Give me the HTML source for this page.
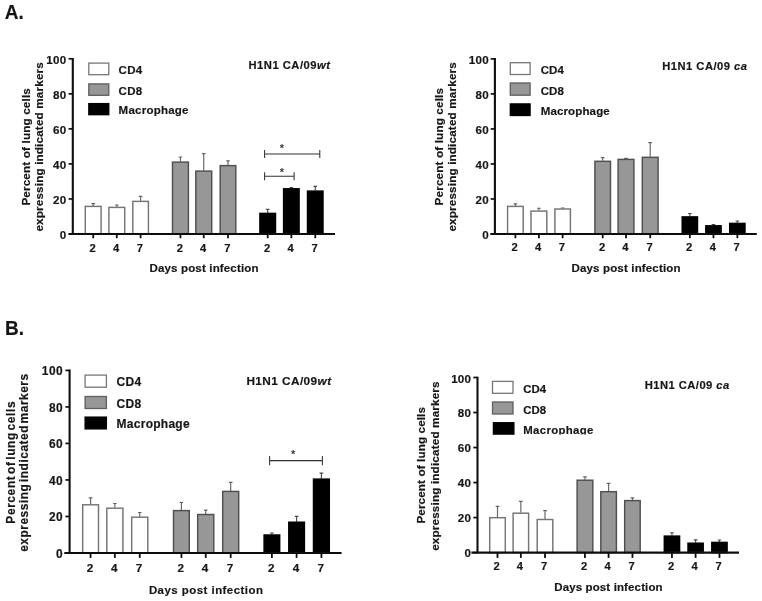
<!DOCTYPE html>
<html lang="en">
<head>
<meta charset="utf-8">
<title>Figure</title>
<style>
html,body{margin:0;padding:0;background:#fff;}
body{width:762px;height:601px;overflow:hidden;}
svg{display:block;}
svg text{font-family:"Liberation Sans", Arial, sans-serif;font-weight:bold;fill:#161616;stroke:#161616;stroke-width:0.18px;}
</style>
</head>
<body>
<svg width="762" height="601" viewBox="0 0 762 601">
<rect width="762" height="601" fill="#fff"/>
<defs><filter id="soft" x="0" y="0" width="762" height="601" filterUnits="userSpaceOnUse"><feGaussianBlur stdDeviation="0.42"/></filter><clipPath id="cm"><rect x="515" y="415" width="100" height="19.4"/></clipPath></defs>
<g filter="url(#soft)">
<text x="4.7" y="18.5" font-size="20.6" textLength="19.0" lengthAdjust="spacingAndGlyphs">A.</text>
<text x="5.0" y="335.0" font-size="20.2" textLength="19.0" lengthAdjust="spacingAndGlyphs">B.</text>
<g><path d="M93.2 205.9V203.6M91.4 203.6H95" stroke="#646464" stroke-width="1.15" fill="none"/>
<rect x="85.3" y="206.4" width="15.8" height="27.6" fill="#fff" stroke="#747474" stroke-width="1.45"/>
<path d="M116.8 206.9V205M115 205H118.6" stroke="#646464" stroke-width="1.15" fill="none"/>
<rect x="108.9" y="207.4" width="15.8" height="26.6" fill="#fff" stroke="#747474" stroke-width="1.45"/>
<path d="M140.6 200.9V196.3M138.8 196.3H142.4" stroke="#646464" stroke-width="1.15" fill="none"/>
<rect x="132.8" y="201.4" width="15.6" height="32.6" fill="#fff" stroke="#747474" stroke-width="1.45"/>
<path d="M180.45 161.6V157M178.65 157H182.25" stroke="#646464" stroke-width="1.15" fill="none"/>
<rect x="172.5" y="162.1" width="15.9" height="71.9" fill="#979797" stroke="#505050" stroke-width="1.45"/>
<path d="M203.75 170.6V153.6M201.95 153.6H205.55" stroke="#646464" stroke-width="1.15" fill="none"/>
<rect x="195.8" y="171.1" width="15.9" height="62.9" fill="#979797" stroke="#505050" stroke-width="1.45"/>
<path d="M228 165.1V160.8M226.2 160.8H229.8" stroke="#646464" stroke-width="1.15" fill="none"/>
<rect x="220.2" y="165.6" width="15.6" height="68.4" fill="#979797" stroke="#505050" stroke-width="1.45"/>
<path d="M267.7 212.9V209.3M265.9 209.3H269.5" stroke="#4a4a4a" stroke-width="1.15" fill="none"/>
<rect x="259.9" y="213.4" width="15.6" height="20.6" fill="#000" stroke="#000" stroke-width="1.45"/>
<path d="M291.35 188.3V187.5M289.55 187.5H293.15" stroke="#4a4a4a" stroke-width="1.15" fill="none"/>
<rect x="283.6" y="188.8" width="15.5" height="45.2" fill="#000" stroke="#000" stroke-width="1.45"/>
<path d="M315.25 190.6V186.4M313.45 186.4H317.05" stroke="#4a4a4a" stroke-width="1.15" fill="none"/>
<rect x="307.5" y="191.1" width="15.5" height="42.9" fill="#000" stroke="#000" stroke-width="1.45"/>
<path d="M72.8 58V234.9M68.6 234H335" stroke="#111" stroke-width="2.1" fill="none"/>
<path d="M68.6 234H72.8" stroke="#111" stroke-width="1.7"/>
<text x="66.35" y="239.08" text-anchor="end" font-size="11.6" letter-spacing="0.25">0</text>
<path d="M68.6 198.96H72.8" stroke="#111" stroke-width="1.7"/>
<text x="66.35" y="204.04" text-anchor="end" font-size="11.6" letter-spacing="0.25">20</text>
<path d="M68.6 163.92H72.8" stroke="#111" stroke-width="1.7"/>
<text x="66.35" y="169" text-anchor="end" font-size="11.6" letter-spacing="0.25">40</text>
<path d="M68.6 128.88H72.8" stroke="#111" stroke-width="1.7"/>
<text x="66.35" y="133.96" text-anchor="end" font-size="11.6" letter-spacing="0.25">60</text>
<path d="M68.6 93.84H72.8" stroke="#111" stroke-width="1.7"/>
<text x="66.35" y="98.92" text-anchor="end" font-size="11.6" letter-spacing="0.25">80</text>
<path d="M68.6 58.8H72.8" stroke="#111" stroke-width="1.7"/>
<text x="66.35" y="63.88" text-anchor="end" font-size="11.6" letter-spacing="0.25">100</text>
<path d="M93.2 234V238.2" stroke="#111" stroke-width="1.8"/>
<text x="92.5" y="251.5" text-anchor="middle" font-size="11.2">2</text>
<path d="M116.8 234V238.2" stroke="#111" stroke-width="1.8"/>
<text x="116.1" y="251.5" text-anchor="middle" font-size="11.2">4</text>
<path d="M140.6 234V238.2" stroke="#111" stroke-width="1.8"/>
<text x="139.9" y="251.5" text-anchor="middle" font-size="11.2">7</text>
<path d="M180.45 234V238.2" stroke="#111" stroke-width="1.8"/>
<text x="179.75" y="251.5" text-anchor="middle" font-size="11.2">2</text>
<path d="M203.75 234V238.2" stroke="#111" stroke-width="1.8"/>
<text x="203.05" y="251.5" text-anchor="middle" font-size="11.2">4</text>
<path d="M228 234V238.2" stroke="#111" stroke-width="1.8"/>
<text x="227.3" y="251.5" text-anchor="middle" font-size="11.2">7</text>
<path d="M267.7 234V238.2" stroke="#111" stroke-width="1.8"/>
<text x="267" y="251.5" text-anchor="middle" font-size="11.2">2</text>
<path d="M291.35 234V238.2" stroke="#111" stroke-width="1.8"/>
<text x="290.65" y="251.5" text-anchor="middle" font-size="11.2">4</text>
<path d="M315.25 234V238.2" stroke="#111" stroke-width="1.8"/>
<text x="314.55" y="251.5" text-anchor="middle" font-size="11.2">7</text>
<text x="149.5" y="272.3" font-size="11.5" textLength="109" lengthAdjust="spacing">Days post infection</text>
<text transform="translate(30.2 205.6) rotate(-90)" font-size="11.7" textLength="117.4" lengthAdjust="spacing">Percent of lung cells</text>
<text transform="translate(43.2 231.6) rotate(-90)" font-size="11.7" textLength="169.4" lengthAdjust="spacing">expressing indicated markers</text>
<rect x="88.8" y="63.1" width="20" height="11.6" fill="#fff" stroke="#777" stroke-width="1.3"/>
<text x="118.6" y="74.2" font-size="11.5" textLength="23.5" lengthAdjust="spacing">CD4</text>
<rect x="88.8" y="83.9" width="20" height="11.4" fill="#979797" stroke="#5e5e5e" stroke-width="1.3"/>
<text x="118.6" y="94.8" font-size="11.5" textLength="23.5" lengthAdjust="spacing">CD8</text>
<rect x="88.8" y="103.6" width="20" height="11.1" fill="#000" stroke="#000" stroke-width="1.3"/>
<text x="118.6" y="114.2" font-size="11.5" textLength="69.9" lengthAdjust="spacing">Macrophage</text>
<text x="248.5" y="69.4" font-size="11.2" textLength="81.4" lengthAdjust="spacing">H1N1 CA/09<tspan font-style="italic">wt</tspan></text>
<path d="M264.6 154H319.8M264.6 150V158M319.8 150V158" stroke="#303030" stroke-width="1.05" fill="none"/>
<text x="281.8" y="151.5" text-anchor="middle" font-size="11" font-weight="normal" style="fill:#3a3a3a;stroke:none">*</text>
<path d="M264.6 176.2H294.1M264.6 172.2V180.2M294.1 172.2V180.2" stroke="#303030" stroke-width="1.05" fill="none"/>
<text x="281.8" y="175.6" text-anchor="middle" font-size="11" font-weight="normal" style="fill:#3a3a3a;stroke:none">*</text></g>
<g><path d="M515.4 205.9V203.8M513.6 203.8H517.2" stroke="#646464" stroke-width="1.15" fill="none"/>
<rect x="507.6" y="206.4" width="15.6" height="27.6" fill="#fff" stroke="#747474" stroke-width="1.45"/>
<path d="M538.9 210.6V208.2M537.1 208.2H540.7" stroke="#646464" stroke-width="1.15" fill="none"/>
<rect x="531" y="211.1" width="15.8" height="22.9" fill="#fff" stroke="#747474" stroke-width="1.45"/>
<path d="M562.65 208.5V208M560.85 208H564.45" stroke="#646464" stroke-width="1.15" fill="none"/>
<rect x="554.9" y="209" width="15.5" height="25" fill="#fff" stroke="#747474" stroke-width="1.45"/>
<path d="M602.7 160.8V157.6M600.9 157.6H604.5" stroke="#646464" stroke-width="1.15" fill="none"/>
<rect x="594.9" y="161.3" width="15.6" height="72.7" fill="#979797" stroke="#505050" stroke-width="1.45"/>
<path d="M626 158.9V158.3M624.2 158.3H627.8" stroke="#646464" stroke-width="1.15" fill="none"/>
<rect x="618.1" y="159.4" width="15.8" height="74.6" fill="#979797" stroke="#505050" stroke-width="1.45"/>
<path d="M650.2 156.8V142.6M648.4 142.6H652" stroke="#646464" stroke-width="1.15" fill="none"/>
<rect x="642.3" y="157.3" width="15.8" height="76.7" fill="#979797" stroke="#505050" stroke-width="1.45"/>
<path d="M689.85 216.4V213.5M688.05 213.5H691.65" stroke="#4a4a4a" stroke-width="1.15" fill="none"/>
<rect x="682.2" y="216.9" width="15.3" height="17.1" fill="#000" stroke="#000" stroke-width="1.45"/>
<path d="M713.45 225.3V224.5M711.65 224.5H715.25" stroke="#4a4a4a" stroke-width="1.15" fill="none"/>
<rect x="705.8" y="225.8" width="15.3" height="8.2" fill="#000" stroke="#000" stroke-width="1.45"/>
<path d="M737.35 222.9V221M735.55 221H739.15" stroke="#4a4a4a" stroke-width="1.15" fill="none"/>
<rect x="729.7" y="223.4" width="15.3" height="10.6" fill="#000" stroke="#000" stroke-width="1.45"/>
<path d="M494.9 58.1V234.9M490.4 234H756.8" stroke="#111" stroke-width="2.1" fill="none"/>
<path d="M490.7 234H494.9" stroke="#111" stroke-width="1.7"/>
<text x="488.95" y="239.18" text-anchor="end" font-size="11.6" letter-spacing="0.25">0</text>
<path d="M490.7 198.98H494.9" stroke="#111" stroke-width="1.7"/>
<text x="488.95" y="204.16" text-anchor="end" font-size="11.6" letter-spacing="0.25">20</text>
<path d="M490.7 163.96H494.9" stroke="#111" stroke-width="1.7"/>
<text x="488.95" y="169.14" text-anchor="end" font-size="11.6" letter-spacing="0.25">40</text>
<path d="M490.7 128.94H494.9" stroke="#111" stroke-width="1.7"/>
<text x="488.95" y="134.12" text-anchor="end" font-size="11.6" letter-spacing="0.25">60</text>
<path d="M490.7 93.92H494.9" stroke="#111" stroke-width="1.7"/>
<text x="488.95" y="99.1" text-anchor="end" font-size="11.6" letter-spacing="0.25">80</text>
<path d="M490.7 58.9H494.9" stroke="#111" stroke-width="1.7"/>
<text x="488.95" y="64.08" text-anchor="end" font-size="11.6" letter-spacing="0.25">100</text>
<path d="M515.4 234V238.2" stroke="#111" stroke-width="1.8"/>
<text x="514.7" y="251.4" text-anchor="middle" font-size="11.2">2</text>
<path d="M538.9 234V238.2" stroke="#111" stroke-width="1.8"/>
<text x="538.2" y="251.4" text-anchor="middle" font-size="11.2">4</text>
<path d="M562.65 234V238.2" stroke="#111" stroke-width="1.8"/>
<text x="561.95" y="251.4" text-anchor="middle" font-size="11.2">7</text>
<path d="M602.7 234V238.2" stroke="#111" stroke-width="1.8"/>
<text x="602" y="251.4" text-anchor="middle" font-size="11.2">2</text>
<path d="M626 234V238.2" stroke="#111" stroke-width="1.8"/>
<text x="625.3" y="251.4" text-anchor="middle" font-size="11.2">4</text>
<path d="M650.2 234V238.2" stroke="#111" stroke-width="1.8"/>
<text x="649.5" y="251.4" text-anchor="middle" font-size="11.2">7</text>
<path d="M689.85 234V238.2" stroke="#111" stroke-width="1.8"/>
<text x="689.15" y="251.4" text-anchor="middle" font-size="11.2">2</text>
<path d="M713.45 234V238.2" stroke="#111" stroke-width="1.8"/>
<text x="712.75" y="251.4" text-anchor="middle" font-size="11.2">4</text>
<path d="M737.35 234V238.2" stroke="#111" stroke-width="1.8"/>
<text x="736.65" y="251.4" text-anchor="middle" font-size="11.2">7</text>
<text x="571.5" y="272.2" font-size="11.5" textLength="109" lengthAdjust="spacing">Days post infection</text>
<text transform="translate(442.8 205.4) rotate(-90)" font-size="11.7" textLength="117.4" lengthAdjust="spacing">Percent of lung cells</text>
<text transform="translate(455.6 231.6) rotate(-90)" font-size="11.7" textLength="169.4" lengthAdjust="spacing">expressing indicated markers</text>
<rect x="510.3" y="62.7" width="19.8" height="11.8" fill="#fff" stroke="#777" stroke-width="1.3"/>
<text x="540.7" y="74.3" font-size="11.5" textLength="23.2" lengthAdjust="spacing">CD4</text>
<rect x="510.3" y="83" width="19.8" height="12.2" fill="#979797" stroke="#5e5e5e" stroke-width="1.3"/>
<text x="540.7" y="95" font-size="11.5" textLength="23.2" lengthAdjust="spacing">CD8</text>
<rect x="510.3" y="103.9" width="19.8" height="11.6" fill="#000" stroke="#000" stroke-width="1.3"/>
<text x="540.7" y="115.3" font-size="11.5" textLength="69" lengthAdjust="spacing">Macrophage</text>
<text x="662.3" y="70.4" font-size="11.2" textLength="84.6" lengthAdjust="spacing">H1N1 CA/09 <tspan font-style="italic">ca</tspan></text></g>
<g><path d="M90.6 504.3V497.8M88.8 497.8H92.4" stroke="#646464" stroke-width="1.15" fill="none"/>
<rect x="82.7" y="504.8" width="15.8" height="48.2" fill="#fff" stroke="#747474" stroke-width="1.45"/>
<path d="M114.85 507.7V503.5M113.05 503.5H116.65" stroke="#646464" stroke-width="1.15" fill="none"/>
<rect x="106.8" y="508.2" width="16.1" height="44.8" fill="#fff" stroke="#747474" stroke-width="1.45"/>
<path d="M139.75 516.7V512.5M137.95 512.5H141.55" stroke="#646464" stroke-width="1.15" fill="none"/>
<rect x="131.7" y="517.2" width="16.1" height="35.8" fill="#fff" stroke="#747474" stroke-width="1.45"/>
<path d="M181.4 510.1V502.5M179.6 502.5H183.2" stroke="#646464" stroke-width="1.15" fill="none"/>
<rect x="173.5" y="510.6" width="15.8" height="42.4" fill="#979797" stroke="#505050" stroke-width="1.45"/>
<path d="M205.75 514V510.1M203.95 510.1H207.55" stroke="#646464" stroke-width="1.15" fill="none"/>
<rect x="197.7" y="514.5" width="16.1" height="38.5" fill="#979797" stroke="#505050" stroke-width="1.45"/>
<path d="M230.7 490.9V482.3M228.9 482.3H232.5" stroke="#646464" stroke-width="1.15" fill="none"/>
<rect x="222.7" y="491.4" width="16" height="61.6" fill="#979797" stroke="#505050" stroke-width="1.45"/>
<path d="M271.9 534.5V533M270.1 533H273.7" stroke="#4a4a4a" stroke-width="1.15" fill="none"/>
<rect x="264.1" y="535" width="15.6" height="18" fill="#000" stroke="#000" stroke-width="1.45"/>
<path d="M296.6 521.7V516.4M294.8 516.4H298.4" stroke="#4a4a4a" stroke-width="1.15" fill="none"/>
<rect x="288.8" y="522.2" width="15.6" height="30.8" fill="#000" stroke="#000" stroke-width="1.45"/>
<path d="M321.4 478.6V473.1M319.6 473.1H323.2" stroke="#4a4a4a" stroke-width="1.15" fill="none"/>
<rect x="313.5" y="479.1" width="15.8" height="73.9" fill="#000" stroke="#000" stroke-width="1.45"/>
<path d="M69.6 369.6V553.9M64.3 553H341.6" stroke="#111" stroke-width="2.1" fill="none"/>
<path d="M65.4 553H69.6" stroke="#111" stroke-width="1.7"/>
<text x="63.15" y="557.98" text-anchor="end" font-size="11.9" letter-spacing="0.5">0</text>
<path d="M65.4 516.48H69.6" stroke="#111" stroke-width="1.7"/>
<text x="63.15" y="521.46" text-anchor="end" font-size="11.9" letter-spacing="0.5">20</text>
<path d="M65.4 479.96H69.6" stroke="#111" stroke-width="1.7"/>
<text x="63.15" y="484.94" text-anchor="end" font-size="11.9" letter-spacing="0.5">40</text>
<path d="M65.4 443.44H69.6" stroke="#111" stroke-width="1.7"/>
<text x="63.15" y="448.42" text-anchor="end" font-size="11.9" letter-spacing="0.5">60</text>
<path d="M65.4 406.92H69.6" stroke="#111" stroke-width="1.7"/>
<text x="63.15" y="411.9" text-anchor="end" font-size="11.9" letter-spacing="0.5">80</text>
<path d="M65.4 370.4H69.6" stroke="#111" stroke-width="1.7"/>
<text x="63.15" y="375.38" text-anchor="end" font-size="11.9" letter-spacing="0.5">100</text>
<path d="M90.6 553V557.9" stroke="#111" stroke-width="1.8"/>
<text x="89.9" y="572" text-anchor="middle" font-size="11.7">2</text>
<path d="M114.85 553V557.9" stroke="#111" stroke-width="1.8"/>
<text x="114.15" y="572" text-anchor="middle" font-size="11.7">4</text>
<path d="M139.75 553V557.9" stroke="#111" stroke-width="1.8"/>
<text x="139.05" y="572" text-anchor="middle" font-size="11.7">7</text>
<path d="M181.4 553V557.9" stroke="#111" stroke-width="1.8"/>
<text x="180.7" y="572" text-anchor="middle" font-size="11.7">2</text>
<path d="M205.75 553V557.9" stroke="#111" stroke-width="1.8"/>
<text x="205.05" y="572" text-anchor="middle" font-size="11.7">4</text>
<path d="M230.7 553V557.9" stroke="#111" stroke-width="1.8"/>
<text x="230" y="572" text-anchor="middle" font-size="11.7">7</text>
<path d="M271.9 553V557.9" stroke="#111" stroke-width="1.8"/>
<text x="271.2" y="572" text-anchor="middle" font-size="11.7">2</text>
<path d="M296.6 553V557.9" stroke="#111" stroke-width="1.8"/>
<text x="295.9" y="572" text-anchor="middle" font-size="11.7">4</text>
<path d="M321.4 553V557.9" stroke="#111" stroke-width="1.8"/>
<text x="320.7" y="572" text-anchor="middle" font-size="11.7">7</text>
<text x="148.9" y="593.8" font-size="11.4" textLength="114" lengthAdjust="spacing">Days post infection</text>
<text transform="translate(15.3 523.7) rotate(-90)" font-size="12" word-spacing="-2.2" textLength="122.3" lengthAdjust="spacing">Percent of lung cells</text>
<text transform="translate(28.4 551.8) rotate(-90)" font-size="12" word-spacing="-2.2" textLength="178" lengthAdjust="spacing">expressing indicated markers</text>
<rect x="85.1" y="375.1" width="21.3" height="12.1" fill="#fff" stroke="#777" stroke-width="1.3"/>
<text x="116.6" y="386.3" font-size="12" textLength="24.6" lengthAdjust="spacing">CD4</text>
<rect x="85.1" y="396.5" width="21.3" height="12" fill="#979797" stroke="#5e5e5e" stroke-width="1.3"/>
<text x="116.6" y="407.6" font-size="12" textLength="24.6" lengthAdjust="spacing">CD8</text>
<rect x="85.1" y="417.1" width="21.3" height="11.8" fill="#000" stroke="#000" stroke-width="1.3"/>
<text x="116.6" y="428" font-size="12" textLength="73" lengthAdjust="spacing">Macrophage</text>
<text x="246.4" y="385" font-size="11.8" textLength="84.7" lengthAdjust="spacing">H1N1 CA/09<tspan font-style="italic">wt</tspan></text>
<path d="M269.6 460.6H322.4M269.6 456V465.2M322.4 456V465.2" stroke="#303030" stroke-width="1.05" fill="none"/>
<text x="293.2" y="458" text-anchor="middle" font-size="11" font-weight="normal" style="fill:#3a3a3a;stroke:none">*</text></g>
<g><path d="M497.5 517.2V506.4M495.7 506.4H499.3" stroke="#646464" stroke-width="1.15" fill="none"/>
<rect x="489.7" y="517.7" width="15.6" height="34.9" fill="#fff" stroke="#747474" stroke-width="1.45"/>
<path d="M520.85 512.7V501.4M519.05 501.4H522.65" stroke="#646464" stroke-width="1.15" fill="none"/>
<rect x="513.1" y="513.2" width="15.5" height="39.4" fill="#fff" stroke="#747474" stroke-width="1.45"/>
<path d="M545 519V510.6M543.2 510.6H546.8" stroke="#646464" stroke-width="1.15" fill="none"/>
<rect x="537.2" y="519.5" width="15.6" height="33.1" fill="#fff" stroke="#747474" stroke-width="1.45"/>
<path d="M584.95 479.7V476.8M583.15 476.8H586.75" stroke="#646464" stroke-width="1.15" fill="none"/>
<rect x="577.1" y="480.2" width="15.7" height="72.4" fill="#979797" stroke="#505050" stroke-width="1.45"/>
<path d="M608.6 491.2V483.3M606.8 483.3H610.4" stroke="#646464" stroke-width="1.15" fill="none"/>
<rect x="600.8" y="491.7" width="15.6" height="60.9" fill="#979797" stroke="#505050" stroke-width="1.45"/>
<path d="M632.45 500.1V497.8M630.65 497.8H634.25" stroke="#646464" stroke-width="1.15" fill="none"/>
<rect x="624.7" y="500.6" width="15.5" height="52" fill="#979797" stroke="#505050" stroke-width="1.45"/>
<path d="M671.95 535.6V532.7M670.15 532.7H673.75" stroke="#4a4a4a" stroke-width="1.15" fill="none"/>
<rect x="664.3" y="536.1" width="15.3" height="16.5" fill="#000" stroke="#000" stroke-width="1.45"/>
<path d="M695.6 542.7V539.8M693.8 539.8H697.4" stroke="#4a4a4a" stroke-width="1.15" fill="none"/>
<rect x="688" y="543.2" width="15.2" height="9.4" fill="#000" stroke="#000" stroke-width="1.45"/>
<path d="M719.45 541.9V540M717.65 540H721.25" stroke="#4a4a4a" stroke-width="1.15" fill="none"/>
<rect x="711.8" y="542.4" width="15.3" height="10.2" fill="#000" stroke="#000" stroke-width="1.45"/>
<path d="M477.5 376.7V553.5M471.4 552.6H739" stroke="#111" stroke-width="2.1" fill="none"/>
<path d="M473.3 552.6H477.5" stroke="#111" stroke-width="1.7"/>
<text x="471.25" y="556.98" text-anchor="end" font-size="11.6" letter-spacing="0.25">0</text>
<path d="M473.3 517.58H477.5" stroke="#111" stroke-width="1.7"/>
<text x="471.25" y="521.96" text-anchor="end" font-size="11.6" letter-spacing="0.25">20</text>
<path d="M473.3 482.56H477.5" stroke="#111" stroke-width="1.7"/>
<text x="471.25" y="486.94" text-anchor="end" font-size="11.6" letter-spacing="0.25">40</text>
<path d="M473.3 447.54H477.5" stroke="#111" stroke-width="1.7"/>
<text x="471.25" y="451.92" text-anchor="end" font-size="11.6" letter-spacing="0.25">60</text>
<path d="M473.3 412.52H477.5" stroke="#111" stroke-width="1.7"/>
<text x="471.25" y="416.9" text-anchor="end" font-size="11.6" letter-spacing="0.25">80</text>
<path d="M473.3 377.5H477.5" stroke="#111" stroke-width="1.7"/>
<text x="471.25" y="382.88" text-anchor="end" font-size="11.6" letter-spacing="0.25">100</text>
<path d="M497.5 552.6V557.9" stroke="#111" stroke-width="1.8"/>
<text x="496.6" y="570.3" text-anchor="middle" font-size="11.2">2</text>
<path d="M520.85 552.6V557.9" stroke="#111" stroke-width="1.8"/>
<text x="519.95" y="570.3" text-anchor="middle" font-size="11.2">4</text>
<path d="M545 552.6V557.9" stroke="#111" stroke-width="1.8"/>
<text x="544.1" y="570.3" text-anchor="middle" font-size="11.2">7</text>
<path d="M584.95 552.6V557.9" stroke="#111" stroke-width="1.8"/>
<text x="584.05" y="570.3" text-anchor="middle" font-size="11.2">2</text>
<path d="M608.6 552.6V557.9" stroke="#111" stroke-width="1.8"/>
<text x="607.7" y="570.3" text-anchor="middle" font-size="11.2">4</text>
<path d="M632.45 552.6V557.9" stroke="#111" stroke-width="1.8"/>
<text x="631.55" y="570.3" text-anchor="middle" font-size="11.2">7</text>
<path d="M671.95 552.6V557.9" stroke="#111" stroke-width="1.8"/>
<text x="671.05" y="570.3" text-anchor="middle" font-size="11.2">2</text>
<path d="M695.6 552.6V557.9" stroke="#111" stroke-width="1.8"/>
<text x="694.7" y="570.3" text-anchor="middle" font-size="11.2">4</text>
<path d="M719.45 552.6V557.9" stroke="#111" stroke-width="1.8"/>
<text x="718.55" y="570.3" text-anchor="middle" font-size="11.2">7</text>
<text x="554.2" y="591.3" font-size="11.5" textLength="108.4" lengthAdjust="spacing">Days post infection</text>
<text transform="translate(425.2 523.6) rotate(-90)" font-size="11.7" textLength="116.6" lengthAdjust="spacing">Percent of lung cells</text>
<text transform="translate(438.5 550.8) rotate(-90)" font-size="11.7" textLength="169.4" lengthAdjust="spacing">expressing indicated markers</text>
<rect x="492.5" y="381.4" width="20.5" height="11.9" fill="#fff" stroke="#777" stroke-width="1.3"/>
<text x="523.3" y="393.2" font-size="11.4" textLength="22.7" lengthAdjust="spacing">CD4</text>
<rect x="492.5" y="402" width="20.5" height="12" fill="#979797" stroke="#5e5e5e" stroke-width="1.3"/>
<text x="523.3" y="413.8" font-size="11.4" textLength="22.7" lengthAdjust="spacing">CD8</text>
<rect x="493.4" y="422.7" width="20.5" height="11.4" fill="#000" stroke="#000" stroke-width="1.3"/>
<text x="523.3" y="433.6" font-size="11.4" textLength="70" lengthAdjust="spacing" clip-path="url(#cm)">Macrophage</text>
<text x="644.7" y="389.1" font-size="11.2" textLength="84.6" lengthAdjust="spacing">H1N1 CA/09 <tspan font-style="italic">ca</tspan></text></g>
</g>
</svg>
</body>
</html>
